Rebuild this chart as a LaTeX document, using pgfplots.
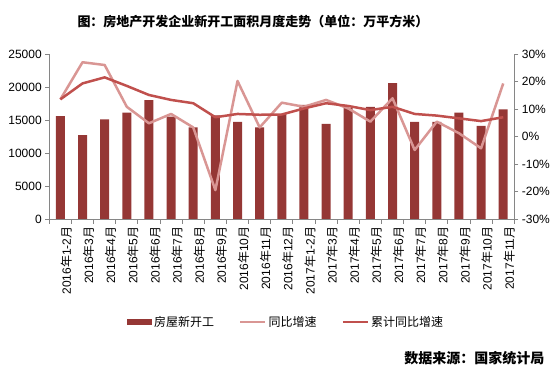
\documentclass[border=0pt]{standalone}
\usepackage{pgfplots}
\pgfplotsset{compat=1.18}
\usepackage{fontspec}
\setmainfont{Liberation Sans}
\newfontfamily\cjk{Noto Sans CJK SC}
\definecolor{barc}{HTML}{953735}
\definecolor{lightl}{HTML}{D99694}
\definecolor{darkl}{HTML}{C0504D}
\definecolor{axc}{HTML}{868686}
\newcommand\lab[2]{#1{\cjk 年}#2{\cjk 月}}
\begin{document}
\begin{tikzpicture}
\useasboundingbox (0pt,0pt) rectangle (555pt,369pt);
\begin{axis}[
  at={(49.3pt,150pt)}, anchor=south west,
  scale only axis, width=465pt, height=165pt,
  xmin=-0.5, xmax=20.5, ymin=0, ymax=25000,
  axis y line*=left, axis x line*=bottom,
  axis line style={draw=axc, line width=0.8pt, -},
  tick align=outside, major tick length=4pt, minor tick length=5pt,
  tick style={draw=axc, line width=0.8pt},
  major x tick style={draw=none},
  minor x tick style={draw=axc, line width=0.8pt},
  ytick={0,5000,10000,15000,20000,25000},
  yticklabels={0,5000,10000,15000,20000,25000},
  scaled ticks=false,
  /pgf/number format/assume math mode=true,
  yticklabel style={font=\fontsize{12}{14}\selectfont},
  xtick={0,...,20},
  minor xtick={-0.5,0.5,...,20.5},
  xticklabels={\lab{2016}{1-2},\lab{2016}{3},\lab{2016}{4},\lab{2016}{5},\lab{2016}{6},\lab{2016}{7},\lab{2016}{8},\lab{2016}{9},\lab{2016}{10},\lab{2016}{11},\lab{2016}{12},\lab{2017}{1-2},\lab{2017}{3},\lab{2017}{4},\lab{2017}{5},\lab{2017}{6},\lab{2017}{7},\lab{2017}{8},\lab{2017}{9},\lab{2017}{10},\lab{2017}{11}},
  xticklabel style={rotate=90, anchor=east, font=\fontsize{12}{14}\selectfont, yshift=-6pt},
  legend columns=3,
  legend style={at={(0.167,-0.624)}, anchor=west, draw=none, fill=none, inner sep=0pt,
    font=\cjk\fontsize{12}{14}\selectfont,
    /tikz/every even column/.append style={column sep=23pt}},
]
\addplot[ybar, bar width=9pt, fill=barc, draw=none,
  legend image code/.code={\fill[barc] (0pt,-3pt) rectangle (25pt,3pt);}]
  coordinates {(0,15600) (1,12700) (2,15100) (3,16100) (4,18000) (5,15500) (6,13900) (7,15700) (8,14700) (9,13900) (10,15900) (11,17300) (12,14400) (13,16800) (14,17000) (15,20600) (16,14700) (17,14700) (18,16100) (19,14100) (20,16600)};
\addlegendentry{房屋新开工}
\addlegendimage{legend image code/.code={\draw[lightl, line width=2.5pt] (0pt,0pt) -- (25pt,0pt);}}
\addlegendentry{同比增速}
\addlegendimage{legend image code/.code={\draw[darkl, line width=2.5pt] (0pt,0pt) -- (25pt,0pt);}}
\addlegendentry{累计同比增速}
\end{axis}
\begin{axis}[
  at={(49.3pt,150pt)}, anchor=south west,
  scale only axis, width=465pt, height=165pt,
  xmin=-0.5, xmax=20.5, ymin=-30, ymax=30,
  axis y line*=right, axis x line=none,
  axis line style={draw=axc, line width=0.8pt, -},
  tick align=outside, major tick length=4pt,
  tick style={draw=axc, line width=0.8pt},
  ytick={-30,-20,-10,0,10,20,30},
  yticklabels={-30\%,-20\%,-10\%,0\%,10\%,20\%,30\%},
  yticklabel style={font=\fontsize{12}{14}\selectfont},
]
\addplot[lightl, line width=2.5pt, line join=round] coordinates {(0,13.5) (1,27) (2,26) (3,10.8) (4,4.8) (5,8.2) (6,3.3) (7,-19.5) (8,20.2) (9,3.3) (10,12.3) (11,10.8) (12,13.3) (13,10.2) (14,5.4) (15,13.9) (16,-4.9) (17,5.4) (18,1.2) (19,-4.3) (20,19.3)};
\addplot[darkl, line width=2.5pt, line join=round] coordinates {(0,13.5) (1,19.3) (2,21.5) (3,18.4) (4,15.1) (5,13.3) (6,12.1) (7,7.0) (8,8.2) (9,7.9) (10,8.0) (11,10.2) (12,12.1) (13,11.1) (14,9.6) (15,10.8) (16,8.2) (17,7.6) (18,6.6) (19,5.6) (20,7.0)};
\end{axis}
\node[font=\cjk\bfseries\fontsize{13}{15}\selectfont] at (253pt,347pt) {图：房地产开发企业新开工面积月度走势（单位：万平方米）};
\node[anchor=east, font=\cjk\bfseries\fontsize{14}{16}\selectfont] at (548pt,11pt) {数据来源：国家统计局};
\end{tikzpicture}
\end{document}
